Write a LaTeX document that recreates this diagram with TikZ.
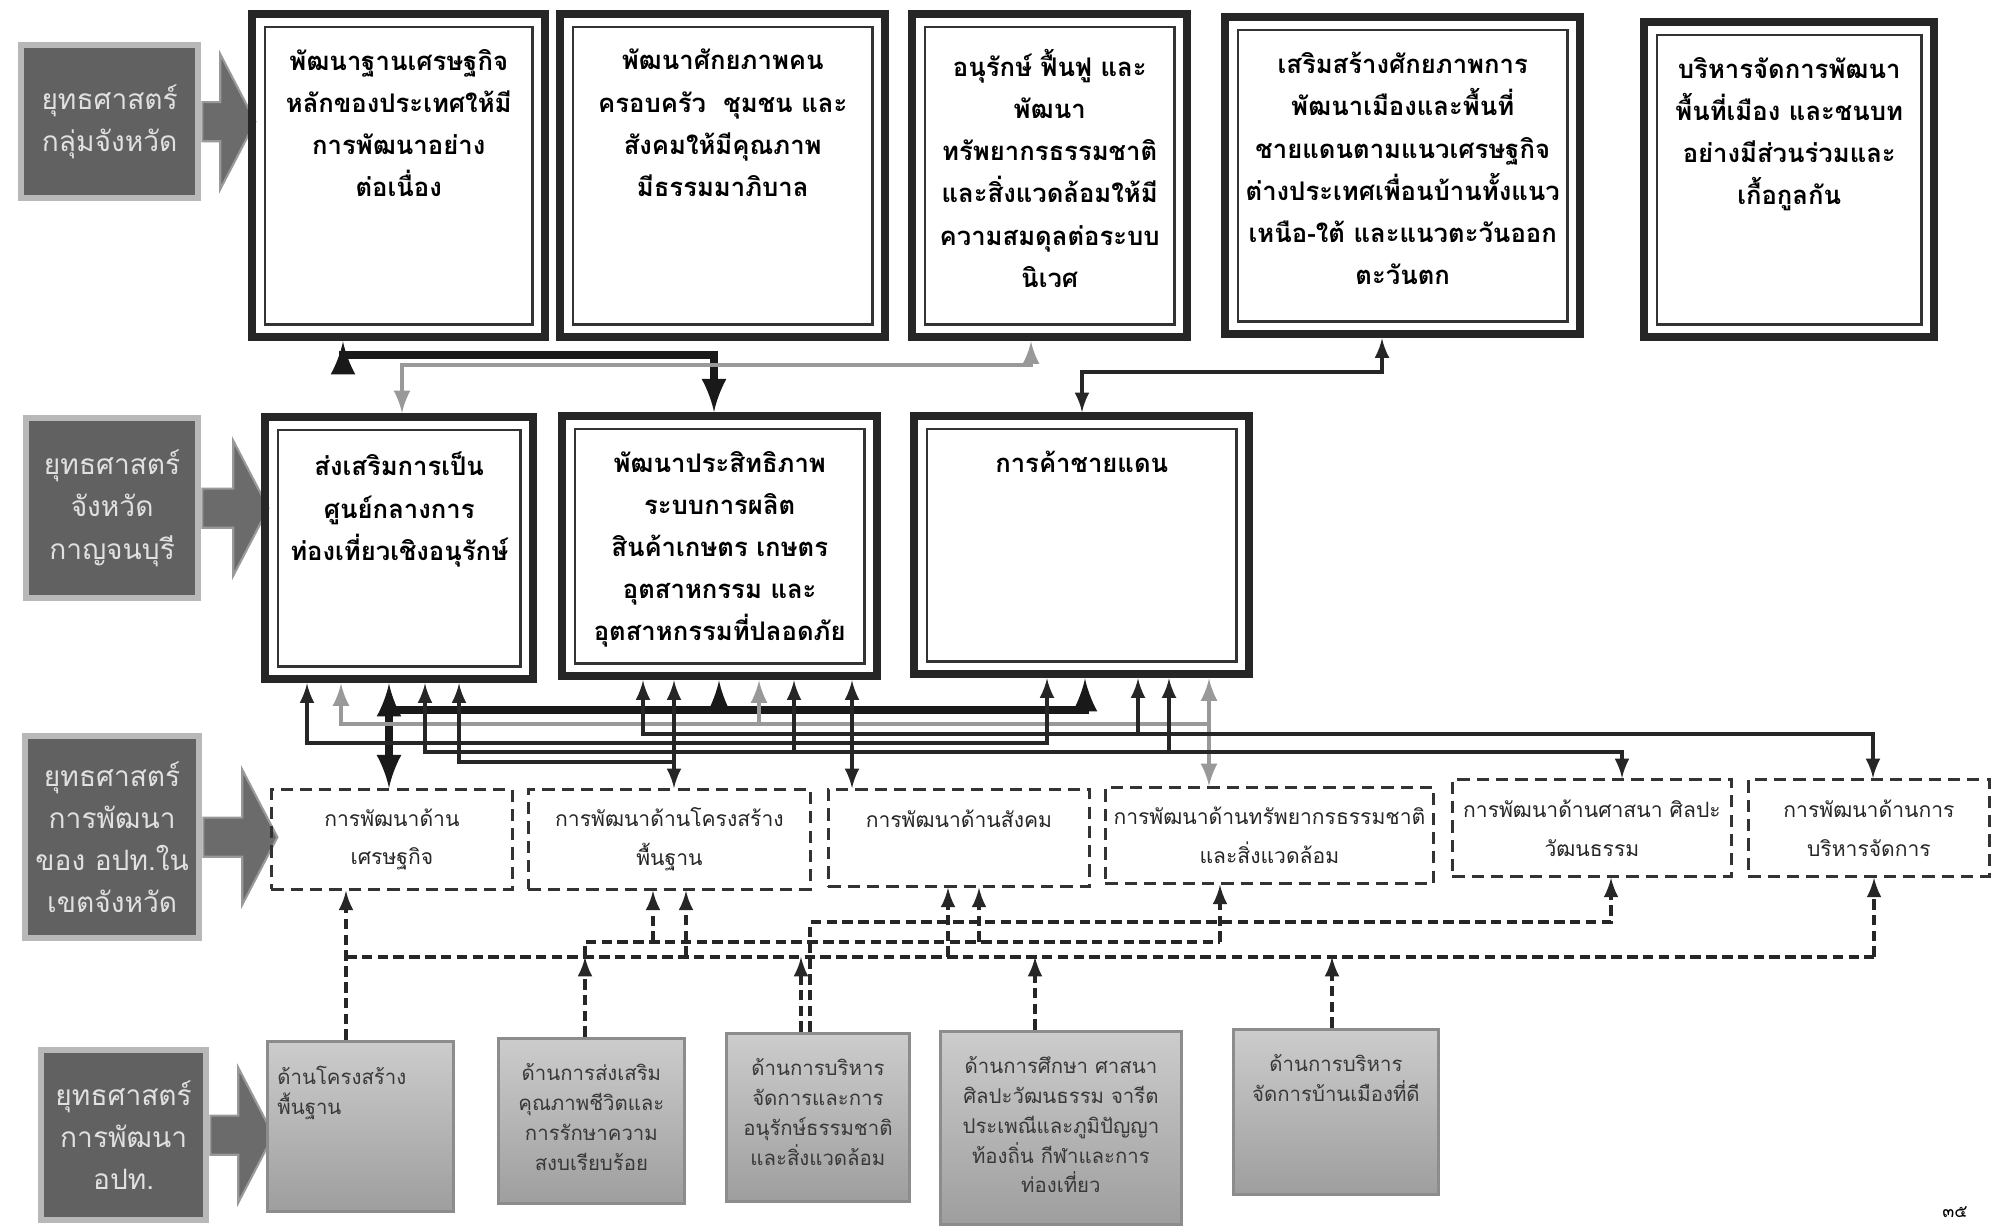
\documentclass[tikz,border=0pt]{standalone}
\usepackage{fontspec}
\newfontfamily\thaifont[Script=Thai]{Loma}
\usetikzlibrary{positioning,shapes.arrows}
\newcommand{\topbox}[3]{\parbox[t][#2][t]{#1}{\centering #3}}

\begin{document}
\begin{tikzpicture}[x=0.1mm,y=-0.1mm,
	lab/.style={anchor=north west,fill=black!62,draw=black!28,line width=1.8pt,text=black!12,align=center,inner sep=0pt,font=\thaifont\fontsize{8}{12}\selectfont},
	blk/.style={single arrow,fill=black!58,draw=black!40,line width=0.6pt,inner sep=0pt,text height=3.7mm,text depth=0pt,single arrow head extend=4.8mm,single arrow tip angle=125},
	goal/.style={anchor=north west,draw=black!85,line width=2.4pt,inner xsep=1.5mm,inner ysep=3.5mm,font=\thaifont\bfseries\fontsize{7.3}{12}\selectfont,
		path picture={\draw[line width=0.7pt,black!80]([shift={(3.6pt,3.6pt)}]path picture bounding box.south west)rectangle([shift={(-3.6pt,-3.6pt)}]path picture bounding box.north east);}},
	act/.style={anchor=north west,draw=black!80,line width=0.8pt,dash pattern=on 3.5pt off 2pt,align=center,inner sep=0pt,text=black!85,font=\thaifont\fontsize{6}{11}\selectfont},
	plan/.style={anchor=north west,draw=black!45,line width=0.8pt,top color=black!20,bottom color=black!38,inner xsep=1mm,inner ysep=2.5mm,text=black!78,font=\thaifont\fontsize{5.8}{8.5}\selectfont},
	link/.style={line width=0.9pt,black!85},
	heavy/.style={line width=2.2pt,black!90},
	pale/.style={line width=1.2pt,black!40},
	dlink/.style={line width=0.9pt,black!85,dash pattern=on 3pt off 1.5pt}]
	\path[use as bounding box,fill=white](0,0)rectangle(1991,1226);
	
	\node[lab,minimum width=17.7mm,minimum height=15.3mm] at (18,42)(L1){ยุทธศาสตร์\\กลุ่มจังหวัด};
	\node[blk,minimum height=5.3mm,right=0pt of L1](ar1){};
	\node[goal] at (248,10)(A1){\topbox{26.3mm}{25.3mm}{พัฒนาฐานเศรษฐกิจ\\หลักของประเทศให้มี\\การพัฒนาอย่าง\\ต่อเนื่อง}};
	\node[goal] at (556,10)(A2){\topbox{29.5mm}{25.3mm}{พัฒนาศักยภาพคน\\ครอบครัว\ \ ชุมชน และ\\สังคมให้มีคุณภาพ\\มีธรรมมาภิบาล}};
	\node[goal] at (908,10)(A3){\topbox{24.5mm}{25.3mm}{อนุรักษ์ ฟื้นฟู และ\\พัฒนา\\ทรัพยากรธรรมชาติ\\และสิ่งแวดล้อมให้มี\\ความสมดุลต่อระบบ\\นิเวศ}};
	\node[goal] at (1221,13)(A4){\topbox{32.5mm}{24.7mm}{เสริมสร้างศักยภาพการ\\พัฒนาเมืองและพื้นที่\\ชายแดนตามแนวเศรษฐกิจ\\ต่างประเทศเพื่อนบ้านทั้งแนว\\เหนือ-ใต้ และแนวตะวันออก\\ตะวันตก}};
	\node[goal] at (1640,18)(A5){\topbox{26mm}{24.5mm}{บริหารจัดการพัฒนา\\พื้นที่เมือง และชนบท\\อย่างมีส่วนร่วมและ\\เกื้อกูลกัน}};
	
	\node[lab,minimum width=17.2mm,minimum height=18mm] at (23,415)(L2){ยุทธศาสตร์\\จังหวัด\\กาญจนบุรี};
	\node[blk,minimum height=6.6mm,right=0pt of L2](ar2){};
	\node[goal] at (261,413)(B1){\topbox{23.8mm}{19.2mm}{ส่งเสริมการเป็น\\ศูนย์กลางการ\\ท่องเที่ยวเชิงอนุรักษ์}};
	\node[goal] at (558,412)(B2){\topbox{28.5mm}{19mm}{พัฒนาประสิทธิภาพ\\ระบบการผลิต\\สินค้าเกษตร เกษตร\\อุตสาหกรรม และ\\อุตสาหกรรมที่ปลอดภัย}};
	\node[goal] at (910,412)(B3){\topbox{30.5mm}{18.8mm}{การค้าชายแดน}};
	
	\node[lab,minimum width=17.4mm,minimum height=20.2mm] at (22,733)(L3){ยุทธศาสตร์\\การพัฒนา\\ของ อปท.ใน\\เขตจังหวัด};
	\node[blk,minimum height=7.4mm,right=0pt of L3](ar3){};
	\node[act,minimum width=24.1mm,minimum height=10mm] at (270,788)(C1){การพัฒนาด้าน\\เศรษฐกิจ};
	\node[act,minimum width=28.2mm,minimum height=10mm] at (527,788)(C2){การพัฒนาด้านโครงสร้าง\\พื้นฐาน};
	\node[act,minimum width=26.1mm,minimum height=9.7mm] at (827,788)(C3){การพัฒนาด้านสังคม\\\phantom{ก}};
	\node[act,minimum width=32.8mm,minimum height=9.6mm] at (1104,786)(C4){การพัฒนาด้านทรัพยากรธรรมชาติ\\และสิ่งแวดล้อม};
	\node[act,minimum width=27.9mm,minimum height=9.7mm] at (1451,778)(C5){การพัฒนาด้านศาสนา ศิลปะ\\วัฒนธรรม};
	\node[act,minimum width=24.1mm,minimum height=9.7mm] at (1747,778)(C6){การพัฒนาด้านการ\\บริหารจัดการ};
	
	\node[lab,minimum width=16.5mm,minimum height=17mm] at (38,1047)(L4){ยุทธศาสตร์\\การพัฒนา\\อปท.};
	\node[blk,minimum height=6.3mm,right=0pt of L4](ar4){};
	\node[plan] at (266,1040)(D1){\topbox{16.6mm}{12mm}{\raggedright ด้านโครงสร้าง\\พื้นฐาน}};
	\node[plan] at (497,1037)(D2){\topbox{16.6mm}{11.5mm}{ด้านการส่งเสริม\\คุณภาพชีวิตและ\\การรักษาความ\\สงบเรียบร้อย}};
	\node[plan] at (725,1032)(D3){\topbox{16.3mm}{11.8mm}{ด้านการบริหาร\\จัดการและการ\\อนุรักษ์ธรรมชาติ\\และสิ่งแวดล้อม}};
	\node[plan] at (939,1030)(D4){\topbox{22.1mm}{14.3mm}{ด้านการศึกษา ศาสนา\\ศิลปะวัฒนธรรม จารีต\\ประเพณีและภูมิปัญญา\\ท้องถิ่น กีฬาและการ\\ท่องเที่ยว}};
	\node[plan] at (1232,1028)(D5){\topbox{18.5mm}{11.5mm}{ด้านการบริหาร\\จัดการบ้านเมืองที่ดี}};
	\node at (1955,1212)(pg){\thaifont\fontsize{5}{6}\selectfont ๓๕};
	
	\draw[heavy,latex-latex](343,0|-A1.south)--(343,355)--(714,355)--(714,0|-B2.north);
	\draw[pale,latex-latex](1031,0|-A3.south)--(1031,365)--(402,365)--(402,0|-B1.north);
	\draw[link,latex-latex](1382,0|-A4.south)--(1382,372)--(1082,372)--(1082,0|-B3.north);
	
	\draw[heavy,latex-latex](389,0|-B1.south)--(389,0|-C1.north);
	\draw[heavy,-latex](389,710)--(1085,710)--(1085,0|-B3.south);
	\draw[heavy,-latex](719,710)--(719,0|-B2.south);
	\draw[pale,-latex](1209,724)--(341,724)--(341,0|-B1.south);
	\draw[pale,-latex](759,724)--(759,0|-B2.south);
	\draw[pale,latex-latex](1209,0|-B3.south)--(1209,0|-C4.north);
	\draw[link,latex-latex](643,0|-B2.south)--(643,734)--(1873,734)--(1873,0|-C6.north);
	\draw[link,-latex](1138,734)--(1138,0|-B3.south);
	\draw[link,latex-latex](307,0|-B1.south)--(307,743)--(1047,743)--(1047,0|-B3.south);
	\draw[link,latex-latex](852,0|-B2.south)--(852,0|-C3.north);
	\draw[link,latex-latex](425,0|-B1.south)--(425,752)--(1622,752)--(1622,0|-C5.north);
	\draw[link,-latex](794,752)--(794,0|-B2.south);
	\draw[link,-latex](1169,752)--(1169,0|-B3.south);
	\draw[link,latex-latex](674,0|-B2.south)--(674,0|-C2.north);
	\draw[link,-latex](674,762)--(459,762)--(459,0|-B1.south);
	
	\draw[dlink,-latex](346,0|-D1.north)--(346,0|-C1.south);
	\draw[dlink](346,957)--(1874,957);
	\draw[dlink,-latex](1874,957)--(1874,0|-C6.south);
	\draw[dlink,-latex](686,957)--(686,0|-C2.south);
	\draw[dlink,-latex](948,957)--(948,0|-C3.south);
	\draw[dlink,-latex](801,0|-D3.north)--(801,957);
	\draw[dlink,-latex](1035,0|-D4.north)--(1035,957);
	\draw[dlink,-latex](1332,0|-D5.north)--(1332,957);
	\draw[dlink,-latex](585,0|-D2.north)--(585,957);
	\draw[dlink](585,957)--(585,942)--(1220,942);
	\draw[dlink,-latex](1220,942)--(1220,0|-C4.south);
	\draw[dlink,-latex](653,942)--(653,0|-C2.south);
	\draw[dlink,-latex](979,942)--(979,0|-C3.south);
	\draw[dlink,-latex](810,0|-D3.north)--(810,922)--(1611,922)--(1611,0|-C5.south);
\end{tikzpicture}
\end{document}
